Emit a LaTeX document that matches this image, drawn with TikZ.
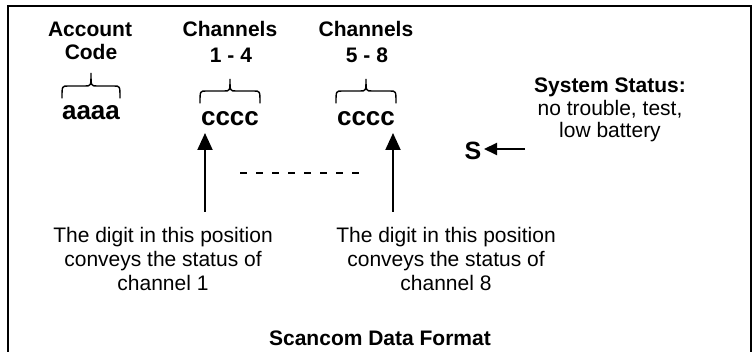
\documentclass[tikz,border=0pt]{standalone}
\usepackage{fontspec}
\setmainfont{Liberation Sans}
\usetikzlibrary{arrows.meta}
\newcommand\drawbrace[5]{% xc, half width, top y, mid y, bottom y
  \draw[bracestyle] ({#1-#2},#5) .. controls ({#1-#2},#4) and ({#1-#2},#4) .. ({#1-#2+6},#4)
    -- ({#1-6},#4) .. controls ({#1},#4) and ({#1},#4) .. ({#1},#3)
    .. controls ({#1},#4) and ({#1},#4) .. ({#1+6},#4)
    -- ({#1+#2-6},#4) .. controls ({#1+#2},#4) and ({#1+#2},#4) .. ({#1+#2},#5);}
\begin{document}
\begin{tikzpicture}[x=1pt,y=-1pt,
  body/.style={font=\fontsize{21}{24}\selectfont, inner sep=0pt, anchor=base},
  head/.style={font=\fontsize{21}{24}\selectfont\bfseries, inner sep=0pt, anchor=base},
  big/.style={font=\fontsize{26}{30}\selectfont\bfseries, inner sep=0pt, anchor=base},
  bracestyle/.style={line width=1.4pt, line cap=round},
  uparrow/.style={line width=2pt, -{Triangle[length=17pt,width=15pt]}},
]
\useasboundingbox (0,0) rectangle (756,352);
\clip (0,0) rectangle (756,352);
\draw[line width=2.5pt] (8,400) -- (8,6) -- (751,6) -- (751,400);

% headings
\node[head] (acc) at (90,37) {Account};
\node[head] (code) at (91,60) {Code};
\node[head] (ch1) at (230,37) {Channels};
\node[head] (r1) at (231,63) {1 - 4};
\node[head] (ch2) at (366,37) {Channels};
\node[head] (r2) at (367,63) {5 - 8};

% braces
\drawbrace{91}{29}{73}{86}{98}
\drawbrace{230}{30}{79}{91}{103}
\drawbrace{366}{30}{79}{91}{103}

% codes
\node[big] (aaaa) at (91,120) {aaaa};
\node[big] (c1) at (230,126) {cccc};
\node[big] (c2) at (366,126) {cccc};

% system status
\node[head] (ss) at (610,93) {System Status:};
\node[body] (ss2) at (610,116) {no trouble, test,};
\node[body] (ss3) at (610,138) {low battery};
\node[font=\fontsize{25}{30}\selectfont\bfseries, inner sep=0pt, anchor=base] (S) at (473,160) {S};
\coordinate (sarr) at (525,149);
\coordinate (stip) at (484,149);
\draw[line width=2pt, -{Triangle[length=13pt,width=12pt]}] (sarr) -- (stip);

% arrows
\coordinate (a1b) at (205,212);
\coordinate (a1t) at (205,133);
\coordinate (a2b) at (393,212);
\coordinate (a2t) at (393,133);
\draw[uparrow] (a1b) -- (a1t);
\draw[uparrow] (a2b) -- (a2t);

% dashes
\coordinate (d1) at (240,173);
\coordinate (d2) at (362,173);
\draw[line width=2pt, dash pattern=on 7pt off 9pt] (d1) -- (d2);

% descriptions
\node[body] (l1) at (163,243) {The digit in this position};
\node[body] (l2) at (163,267) {conveys the status of};
\node[body] (l3) at (163,291) {channel 1};
\node[body] (m1) at (446,243) {The digit in this position};
\node[body] (m2) at (446,267) {conveys the status of};
\node[body] (m3) at (446,291) {channel 8};

\node[head] (title) at (380,346) {Scancom Data Format};
\end{tikzpicture}
\end{document}
